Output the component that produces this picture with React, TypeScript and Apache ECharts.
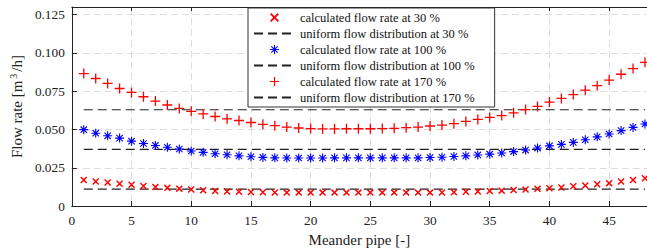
import React, { useEffect, useRef } from "react";
import * as echarts from "echarts";

const pipes: number[] = Array.from({ length: 48 }, (_, i) => i + 1);

const flow30: number[] = [
  0.0171, 0.0161, 0.0154, 0.0146, 0.0139, 0.0131, 0.0125, 0.0119, 0.0114, 0.0108,
  0.0104, 0.0099, 0.0096, 0.0094, 0.0092, 0.0090, 0.0089, 0.0088, 0.0088, 0.0088,
  0.0088, 0.0088, 0.0088, 0.0088, 0.0088, 0.0088, 0.0088, 0.0088, 0.0088, 0.0088,
  0.0089, 0.0090, 0.0093, 0.0096, 0.0098, 0.0101, 0.0105, 0.0109, 0.0113, 0.0117,
  0.0122, 0.0129, 0.0135, 0.0143, 0.0150, 0.0161, 0.0171, 0.0182,
];

const flow100: number[] = [
  0.0499, 0.0476, 0.0459, 0.0444, 0.0424, 0.0409, 0.0396, 0.0384, 0.0373, 0.0360,
  0.0351, 0.0342, 0.0335, 0.0328, 0.0322, 0.0318, 0.0315, 0.0314, 0.0314, 0.0314,
  0.0314, 0.0315, 0.0315, 0.0315, 0.0315, 0.0315, 0.0315, 0.0315, 0.0315, 0.0317,
  0.0319, 0.0324, 0.0328, 0.0334, 0.0339, 0.0347, 0.0356, 0.0366, 0.0379, 0.0393,
  0.0403, 0.0416, 0.0433, 0.0452, 0.0471, 0.0493, 0.0514, 0.0536,
];

const flow170: number[] = [
  0.0865, 0.0833, 0.0801, 0.0768, 0.0742, 0.0714, 0.0686, 0.0660, 0.0638, 0.0619,
  0.0602, 0.0585, 0.0570, 0.0559, 0.0546, 0.0534, 0.0525, 0.0516, 0.0510, 0.0506,
  0.0504, 0.0504, 0.0505, 0.0505, 0.0505, 0.0506, 0.0508, 0.0512, 0.0516, 0.0523,
  0.0529, 0.0538, 0.0553, 0.0566, 0.0579, 0.0591, 0.0609, 0.0630, 0.0651, 0.0679,
  0.0703, 0.0728, 0.0757, 0.0786, 0.0823, 0.0861, 0.0898, 0.0939,
];

const uniform30 = 0.0111;
const uniform100 = 0.0370;
const uniform170 = 0.0629;

const seriesNames: string[] = [
  "calculated flow rate at 30 %",
  "uniform flow distribution at 30 %",
  "calculated flow rate at 100 %",
  "uniform flow distribution at 100 %",
  "calculated flow rate at 170 %",
  "uniform flow distribution at 170 %",
];

const FONT = "'Liberation Serif', 'Times New Roman', serif";

function barsPath(angles: number[], thick: number): string {
  const h = thick / 2;
  const L = 5;
  let d = "";
  for (const deg of angles) {
    const a = (deg * Math.PI) / 180;
    const c = Math.cos(a);
    const s = Math.sin(a);
    const pts = [
      [-L, -h],
      [L, -h],
      [L, h],
      [-L, h],
    ].map(([px, py]) => [px * c - py * s, px * s + py * c]);
    d +=
      "M" +
      pts.map((p) => p[0].toFixed(3) + " " + p[1].toFixed(3)).join(" L") +
      " Z ";
  }
  return "path://" + d.trim();
}

const crossSymbol = barsPath([45, 135], 1.7);
const plusSymbol = barsPath([0, 90], 1.3);
const starSymbol = barsPath([0, 45, 90, 135], 1.25);

function pairs(vals: number[]): number[][] {
  return pipes.map((p, i) => [p, vals[i]]);
}

function flat(v: number): number[][] {
  return [
    [pipes[0], v],
    [pipes[pipes.length - 1], v],
  ];
}

export default function App() {
  const ref = useRef<HTMLDivElement>(null);
  useEffect(() => {
    if (!ref.current) return;
    const chart = echarts.init(ref.current, undefined, { renderer: "svg" });
    const dashLine = {
      color: "#222",
      width: 1.2,
      type: [9, 5] as number[],
    };
    const hiddenItem = { color: "rgba(0,0,0,0)", opacity: 0 };
    const axisText = { fontFamily: FONT, fontSize: 13.3, color: "#222" };
    chart.setOption({
      animation: false,
      textStyle: { fontFamily: FONT },
      grid: { left: 70, right: -1, top: 7, bottom: 42 },
      legend: {
        orient: "vertical",
        left: 248,
        top: 8,
        backgroundColor: "#fff",
        borderColor: "#333",
        borderWidth: 1,
        borderRadius: 0,
        padding: [3, 20, 3, 5],
        itemWidth: 41,
        itemHeight: 9,
        itemGap: 3,
        symbolKeepAspect: true,
        textStyle: { fontFamily: FONT, fontSize: 12.5, lineHeight: 12.5, color: "#111" },
        data: seriesNames,
      },
      xAxis: [
        {
          type: "value",
          position: "bottom",
          min: 0,
          max: 48.17,
          interval: 5,
          name: "Meander pipe [-]",
          nameLocation: "middle",
          nameGap: 24,
          nameTextStyle: { fontFamily: FONT, fontSize: 15, color: "#222" },
          axisLine: { show: true, onZero: false, lineStyle: { color: "#222", width: 1 } },
          axisTick: { show: true, inside: true, length: 5, lineStyle: { color: "#222" } },
          axisLabel: {
            ...axisText,
            margin: 8,
            showMaxLabel: false,
            formatter: (v: number) => (Math.abs(v % 5) < 1e-6 ? String(v) : ""),
          },
          splitLine: {
            show: true,
            lineStyle: { color: "#dedede", type: [7, 4], width: 1 },
          },
        },
        {
          type: "value",
          position: "top",
          min: 0,
          max: 48.17,
          interval: 5,
          axisLine: { show: true, onZero: false, lineStyle: { color: "#222", width: 1 } },
          axisTick: { show: true, inside: true, length: 4, lineStyle: { color: "#222" } },
          axisLabel: { show: false },
          splitLine: { show: false },
        },
      ],
      yAxis: [
        {
          type: "value",
          min: 0,
          max: 0.13,
          interval: 0.025,
          name: "{t|Flow rate [m}{s|3}{t|/h]}",
          nameLocation: "middle",
          nameGap: 40,
          nameRotate: 90,
          nameTextStyle: {
            fontFamily: FONT,
            fontSize: 15,
            rich: {
              t: { fontFamily: FONT, fontSize: 15, color: "#222", lineHeight: 17 },
              s: { fontFamily: FONT, fontSize: 10, color: "#222", verticalAlign: "top", lineHeight: 10, padding: [0, 2, 0, 2] },
            },
          },
          axisLine: { show: true, onZero: false, lineStyle: { color: "#222", width: 1 } },
          axisTick: { show: true, inside: true, length: 5, lineStyle: { color: "#222" } },
          axisLabel: {
            ...axisText,
            margin: 7,
            showMaxLabel: false,
            formatter: (v: number) => (v === 0 ? "0" : v.toFixed(3)),
          },
          splitLine: {
            show: true,
            lineStyle: { color: "#dedede", type: [7, 4], width: 1 },
          },
        },
      ],
      series: [
        {
          name: seriesNames[0],
          type: "scatter",
          data: pairs(flow30),
          symbol: crossSymbol,
          symbolSize: 7,
          symbolKeepAspect: true,
          itemStyle: { color: "#ff0000", opacity: 1 },
          z: 3,
        },
        {
          name: seriesNames[1],
          type: "line",
          data: flat(uniform30),
          symbol: "none",
          showSymbol: false,
          lineStyle: dashLine,
          itemStyle: hiddenItem,
          z: 2,
        },
        {
          name: seriesNames[2],
          type: "scatter",
          data: pairs(flow100),
          symbol: starSymbol,
          symbolSize: 9,
          symbolKeepAspect: true,
          itemStyle: { color: "#0000ff", opacity: 1 },
          z: 3,
        },
        {
          name: seriesNames[3],
          type: "line",
          data: flat(uniform100),
          symbol: "none",
          showSymbol: false,
          lineStyle: dashLine,
          itemStyle: hiddenItem,
          z: 2,
        },
        {
          name: seriesNames[4],
          type: "scatter",
          data: pairs(flow170),
          symbol: plusSymbol,
          symbolSize: 10,
          symbolKeepAspect: true,
          itemStyle: { color: "#ff0000", opacity: 1 },
          z: 3,
        },
        {
          name: seriesNames[5],
          type: "line",
          data: flat(uniform170),
          symbol: "none",
          showSymbol: false,
          lineStyle: dashLine,
          itemStyle: hiddenItem,
          z: 2,
        },
      ],
    });
    return () => chart.dispose();
  }, []);
  return <div ref={ref} style={{ width: 647, height: 252, position: "absolute", left: 0, top: 0 }} />;
}
